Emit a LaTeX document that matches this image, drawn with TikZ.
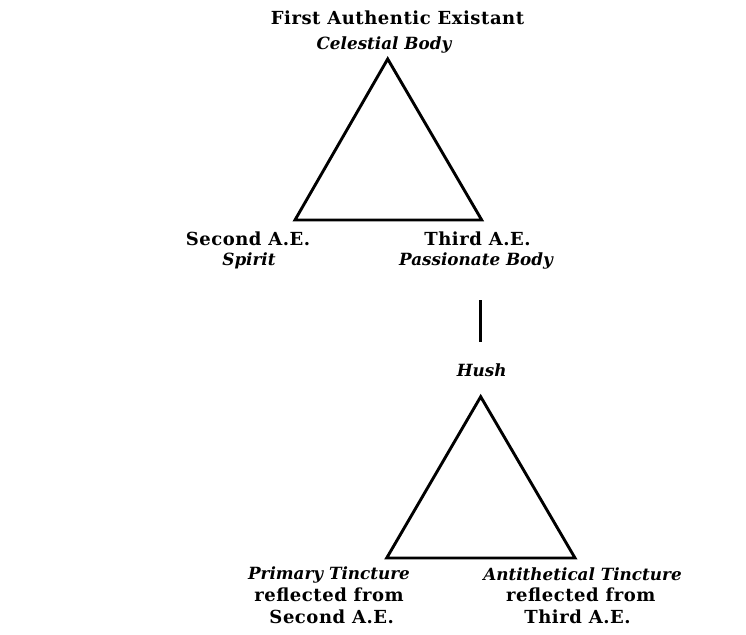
\documentclass[tikz,border=0pt]{standalone}
\usepackage{fontspec}
\setmainfont{DejaVu Serif}
\newfontfamily\spacedfont[LetterSpace=3]{DejaVu Serif}
\begin{document}
\begin{tikzpicture}[x=1pt,y=-1pt,
  lbl/.style={anchor=base,inner sep=0pt,font=\spacedfont\fontsize{18}{20}\selectfont\bfseries},
  ilbl/.style={anchor=base,inner sep=0pt,font=\fontsize{16.8}{19}\selectfont\bfseries\itshape},
  edge/.style={line width=2.9pt,line join=miter,draw=black}]
\useasboundingbox (0,0) rectangle (746,634);
% top triangle
\coordinate (t1) at (387.7,59);
\coordinate (t2) at (295,220);
\coordinate (t3) at (481.7,220);
\draw[edge] (t1) -- (t2) -- (t3) -- cycle;
% bottom triangle
\coordinate (b1) at (480.7,396.7);
\coordinate (b2) at (386.7,558);
\coordinate (b3) at (575,558);
\draw[edge] (b1) -- (b2) -- (b3) -- cycle;
% connector
\coordinate (c1) at (480.7,300);
\coordinate (c2) at (480.7,342);
\draw[edge] (c1) -- (c2);
% labels
\node[lbl]  (fae) at (397.5,25) {First Authentic Existant};
\node[ilbl] (cb)  at (384,49) {Celestial Body};
\node[lbl]  (sae) at (248,245) {Second A.E.};
\node[ilbl] (sp)  at (249,265) {Spirit};
\node[lbl]  (tae) at (477.5,245) {Third A.E.};
\node[ilbl] (pb)  at (476,265) {Passionate Body};
\node[ilbl] (hu)  at (481.7,376) {Hush};
\node[ilbl] (pt)  at (329,579) {Primary Tincture};
\node[lbl]  (rf1) at (329,601) {reflected from};
\node[lbl]  (sae2) at (331.7,623) {Second A.E.};
\node[ilbl] (at)  at (582.5,580) {Antithetical Tincture};
\node[lbl]  (rf2) at (580.8,601) {reflected from};
\node[lbl]  (tae2) at (577.5,623) {Third A.E.};
\end{tikzpicture}
\end{document}
